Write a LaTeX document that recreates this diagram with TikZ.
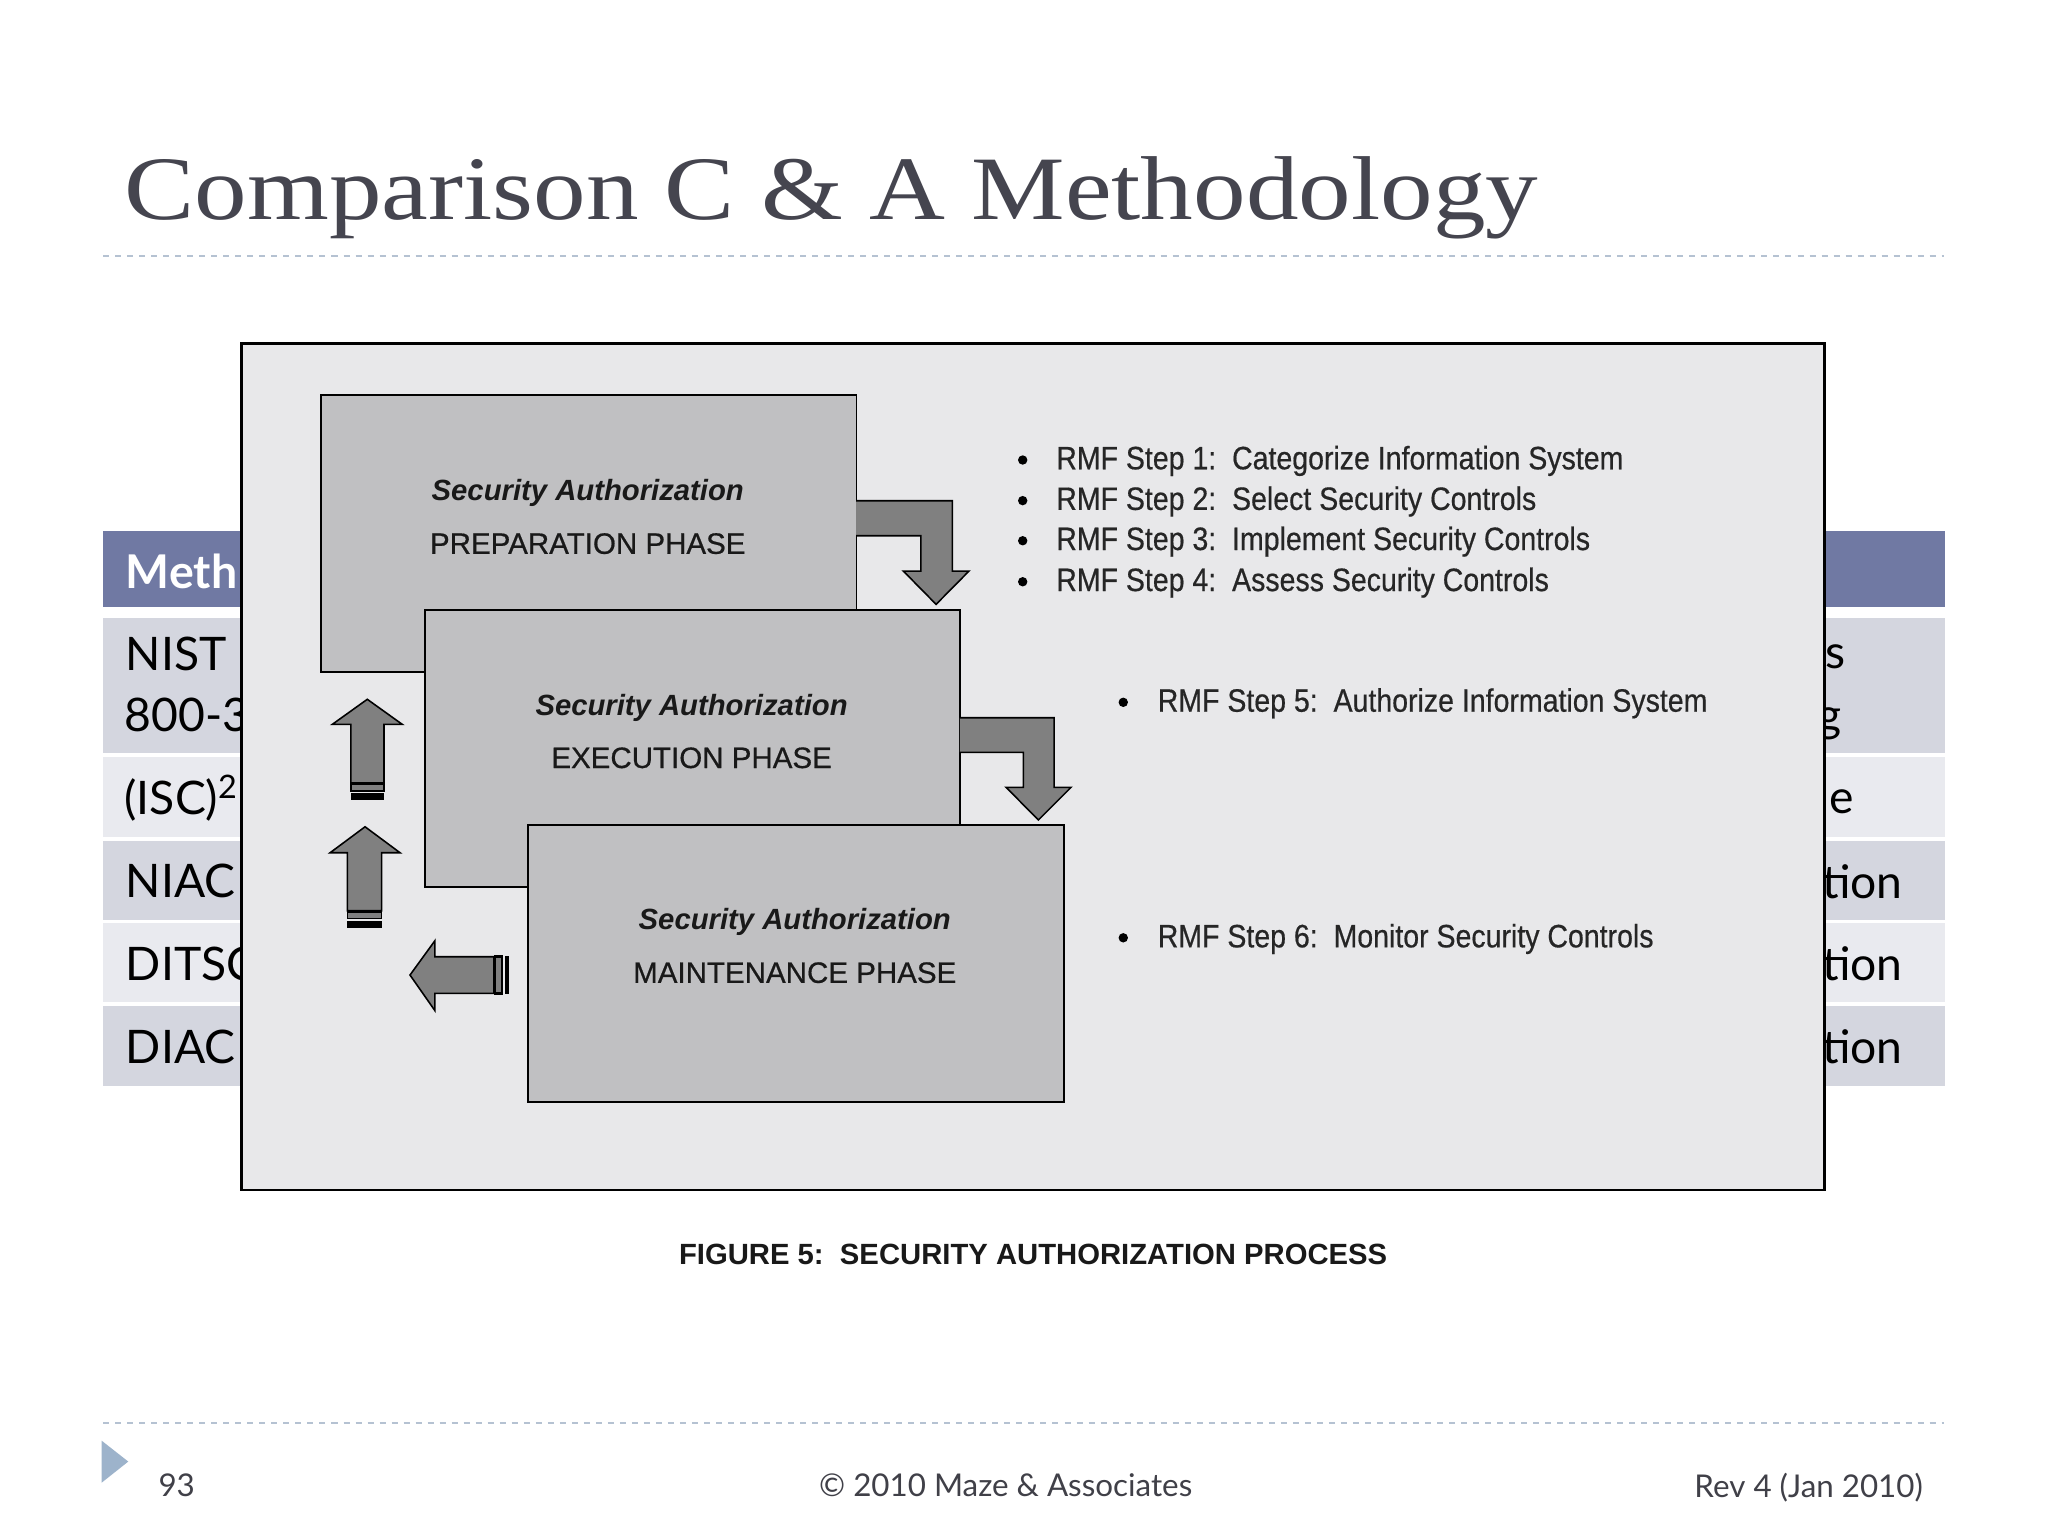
\documentclass[tikz,border=0pt]{standalone}
\usepackage{fontspec}
\setmainfont{Liberation Sans}
\newfontfamily\titlefont[FakeStretch=1.16]{Liberation Serif}
\newfontfamily\gillfont{Lato}
\newfontfamily\narrowfont[FakeStretch=0.88,FakeBold=0.5]{Liberation Sans}
\newfontfamily\phasefont[FakeBold=0.6]{Liberation Sans}
\definecolor{titlegray}{HTML}{45454F}
\definecolor{hdrblue}{HTML}{7079A3}
\definecolor{rowdark}{HTML}{D4D6DF}
\definecolor{rowlight}{HTML}{E9EAEF}
\definecolor{figbg}{HTML}{E8E8EA}
\definecolor{phasegray}{HTML}{C0C0C2}
\definecolor{arrowgray}{HTML}{808080}
\definecolor{dashblue}{HTML}{B5C2D2}
\definecolor{trianglecol}{HTML}{9DB3CB}
\definecolor{footgray}{HTML}{404048}
\tikzset{
  dashline/.style={draw=dashblue, line width=0.6pt, dash pattern=on 2.3pt off 2.3pt},
  tabletext/.style={anchor=base west, inner sep=0pt, font=\gillfont\fontsize{17.7pt}{20pt}\selectfont, text=black},
  tabletextr/.style={tabletext, anchor=base east},
  hdrtext/.style={anchor=base west, inner sep=0pt, font=\gillfont\bfseries\fontsize{17.8pt}{20pt}\selectfont, text=white},
  phasebox/.style={draw=black, line width=0.75pt, fill=phasegray, rectangle, anchor=north west, inner sep=0pt, minimum width=205pt, minimum height=106pt},
  phasetitle/.style={anchor=base, inner sep=0pt, font=\bfseries\itshape\fontsize{11.2pt}{13pt}\selectfont, text=black!90},
  phasename/.style={anchor=base, inner sep=0pt, font=\phasefont\fontsize{11.3pt}{13pt}\selectfont, text=black!90},
  blockarrow/.style={draw=black, line width=0.6pt, fill=arrowgray, line join=miter},
  bulletdot/.style={circle, fill=black, inner sep=0pt, minimum size=3.6pt},
  steptext/.style={anchor=base west, inner sep=0pt, font=\narrowfont\fontsize{12.4pt}{15pt}\selectfont, text=black!85},
  foottext/.style={inner sep=0pt, font=\gillfont\fontsize{12pt}{14pt}\selectfont, text=footgray}
}
\begin{document}
\begin{tikzpicture}[x=0.5pt,y=-0.5pt]
\useasboundingbox (0,0) rectangle (1568,1176);
\fill[white] (0,0) rectangle (1568,1176);

% title
\node[anchor=base west, inner sep=0pt, text=titlegray, font=\titlefont\fontsize{34.7pt}{40pt}\selectfont] (title) at (95,168) {Comparison C \& A Methodology};
\draw[dashline] (79,196) -- (1488,196);

% background table
\fill[hdrblue] (79,406.3) rectangle (1489,464.9);
\fill[rowdark] (79,472.8) rectangle (1489,576.8);
\fill[rowlight] (79,579.7) rectangle (1489,640.7);
\fill[rowdark] (79,643.6) rectangle (1489,704.3);
\fill[rowlight] (79,706.6) rectangle (1489,767.3);
\fill[rowdark] (79,770.2) rectangle (1489,831.1);

\node[hdrtext] (hmeth) at (96,450.2) {Meth};
\node[tabletext] (tnist) at (96,513.7) {NIST};
\node[tabletext] (t800) at (95,560) {800-3};
\node[tabletext] (tisc) at (95,623.7) {(ISC)\textsuperscript{2}};
\node[tabletext] (tniac) at (96,687) {NIAC};
\node[tabletext] (tdits) at (96,750.6) {DITSC};
\node[tabletext] (tdiac) at (96,814) {DIAC};

\node[tabletext] (rs) at (1397,512) {s};
\node[tabletext] (rg) at (1391,560) {g};
\node[tabletext] (re) at (1400,623) {e};
\node[tabletextr] (rt1) at (1457,687.6) {tion};
\node[tabletextr] (rt2) at (1457,750.6) {tion};
\node[tabletextr] (rt3) at (1457,814) {tion};

% figure panel
\draw[fill=figbg, line width=1pt] (185,263) rectangle (1397,911);

% phase boxes and bent arrows
\node[phasebox] (prep) at (245,302) {};
\node[phasetitle] (prept) at (450,383.5) {Security Authorization};
\node[phasename] (prepn) at (450,424) {PREPARATION PHASE};

\draw[blockarrow] (655.4,383.4) -- (729.1,383.4) -- (729.1,437.2) -- (741.9,437.2) -- (716.7,462.7) -- (691.6,437.2) -- (705,437.2) -- (705,410.2) -- (655.4,410.2);

\node[phasebox] (exec) at (324.5,466.5) {};
\node[phasetitle] (exect) at (529.5,547.5) {Security Authorization};
\node[phasename] (execn) at (529.5,588) {EXECUTION PHASE};

\draw[blockarrow] (734.8,549.5) -- (807,549.5) -- (807,602.8) -- (820,602.8) -- (795,627.8) -- (770.3,602.8) -- (783.5,602.8) -- (783.5,576) -- (734.8,576);

\node[phasebox] (maint) at (403.5,631) {};
\node[phasetitle] (maintt) at (608.5,712) {Security Authorization};
\node[phasename] (maintn) at (608.5,752.5) {MAINTENANCE PHASE};

% up arrows
\draw[blockarrow] (281.2,535.4) -- (308,554.6) -- (294,554.6) -- (294,599.5) -- (268.7,599.5) -- (268.7,554.6) -- (254.4,554.6) -- cycle;
\filldraw[fill=arrowgray, draw=black, line width=0.6pt] (268.7,600.5) rectangle (294,605.5);
\fill[black] (268.7,607) rectangle (294,612.5);

\draw[blockarrow] (279.5,633) -- (306.3,652.9) -- (292.2,652.9) -- (292.2,697.3) -- (265.9,697.3) -- (265.9,652.9) -- (252.7,652.9) -- cycle;
\filldraw[fill=arrowgray, draw=black, line width=0.6pt] (265.9,698.3) rectangle (292.2,703.3);
\fill[black] (265.9,704.8) rectangle (292.2,710.3);

% left arrow
\draw[blockarrow] (313.9,746.5) -- (333,720.2) -- (333,732.5) -- (378.2,732.5) -- (378.2,760.5) -- (333,760.5) -- (333,773.8) -- cycle;
\filldraw[fill=arrowgray, draw=black, line width=1pt] (379,732.5) rectangle (384.3,760.5);
\fill[black] (386.5,732) rectangle (390,761);

% step texts
\node[bulletdot] (b1) at (783,352.2) {};
\node[bulletdot] (b2) at (783,383.3) {};
\node[bulletdot] (b3) at (783,414) {};
\node[bulletdot] (b4) at (783,445.4) {};
\node[steptext] (s1) at (808.3,359.3) {RMF Step 1:\ \ Categorize Information System};
\node[steptext] (s2) at (808.3,390.4) {RMF Step 2:\ \ Select Security Controls};
\node[steptext] (s3) at (808.3,421.1) {RMF Step 3:\ \ Implement Security Controls};
\node[steptext] (s4) at (808.3,452.5) {RMF Step 4:\ \ Assess Security Controls};

\node[bulletdot] (b5) at (860,537.7) {};
\node[steptext] (s5) at (886,544.9) {RMF Step 5:\ \ Authorize Information System};
\node[bulletdot] (b6) at (860,718) {};
\node[steptext] (s6) at (886,725.3) {RMF Step 6:\ \ Monitor Security Controls};

% caption
\node[anchor=base, inner sep=0pt, font=\bfseries\fontsize{11.2pt}{13pt}\selectfont, text=black!90] (caption) at (791,968) {FIGURE 5:\ \ SECURITY AUTHORIZATION PROCESS};

% footer
\draw[dashline] (79,1089.6) -- (1488,1089.6);
\fill[trianglecol] (77.8,1103) -- (98.2,1119) -- (77.8,1135.2) -- cycle;
\node[foottext, anchor=base west] (pagenum) at (121,1146) {93};
\node[foottext, anchor=base] (copy) at (770,1146) {© 2010 Maze \& Associates};
\node[foottext, anchor=base east] (rev) at (1472.6,1146.4) {Rev 4 (Jan 2010)};
\end{tikzpicture}
\end{document}
